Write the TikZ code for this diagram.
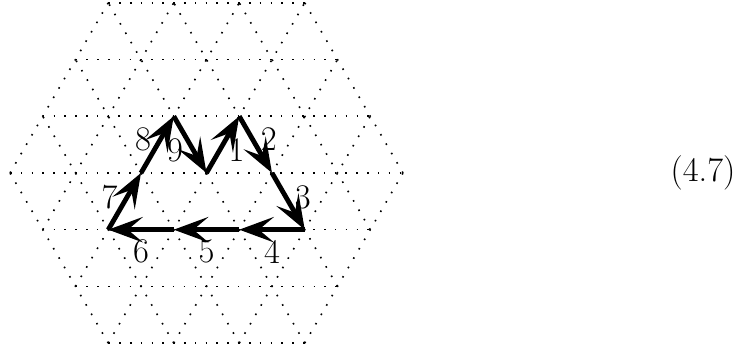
\documentclass[tikz,border=0pt]{standalone}
\usetikzlibrary{arrows.meta}

\begin{document}
\begin{tikzpicture}[
    lattice/.style={line width=0.7pt, loosely dotted},
    hop/.style={-{Stealth[length=15pt, width=11pt, inset=6.5pt]}, line width=2.1pt},
    steplabel/.style={inner sep=1pt, font=\fontsize{15}{18}\selectfont}]
    \useasboundingbox (-3.153,-2.672) rectangle (8.176,2.641);
    \foreach \r in {0,60,120} {
      \foreach \k in {-3,...,3} {
        \pgfmathsetmacro{\hw}{3-abs(\k)/2}
        \draw[lattice, rotate=\r] (-\hw, \k*0.866) -- (\hw, \k*0.866);
      }
    }
    \coordinate (s0) at (0,0);
    \coordinate (s1) at (0.5,0.866);
    \coordinate (s2) at (1,0);
    \coordinate (s3) at (1.5,-0.866);
    \coordinate (s4) at (0.5,-0.866);
    \coordinate (s5) at (-0.5,-0.866);
    \coordinate (s6) at (-1.5,-0.866);
    \coordinate (s7) at (-1,0);
    \coordinate (s8) at (-0.5,0.866);
    \draw[hop] (s0) -- (s1);
    \draw[hop] (s1) -- (s2);
    \draw[hop] (s2) -- (s3);
    \draw[hop] (s3) -- (s4);
    \draw[hop] (s4) -- (s5);
    \draw[hop] (s5) -- (s6);
    \draw[hop] (s6) -- (s7);
    \draw[hop] (s7) -- (s8);
    \draw[hop] (s8) -- (s0);
    \node[steplabel] (l1) at (0.46, 0.35) {1};
    \node[steplabel] (l2) at (0.95, 0.51) {2};
    \node[steplabel] (l3) at (1.47, -0.37) {3};
    \node[steplabel] (l4) at (1.0, -1.2) {4};
    \node[steplabel] (l5) at (0, -1.2) {5};
    \node[steplabel] (l6) at (-1.0, -1.2) {6};
    \node[steplabel] (l7) at (-1.48, -0.37) {7};
    \node[steplabel] (l8) at (-0.97, 0.51) {8};
    \node[steplabel] (l9) at (-0.48, 0.35) {9};
    \node[steplabel] (eqno) at (7.58, 0) {(4.7)};
\end{tikzpicture}
\end{document}
